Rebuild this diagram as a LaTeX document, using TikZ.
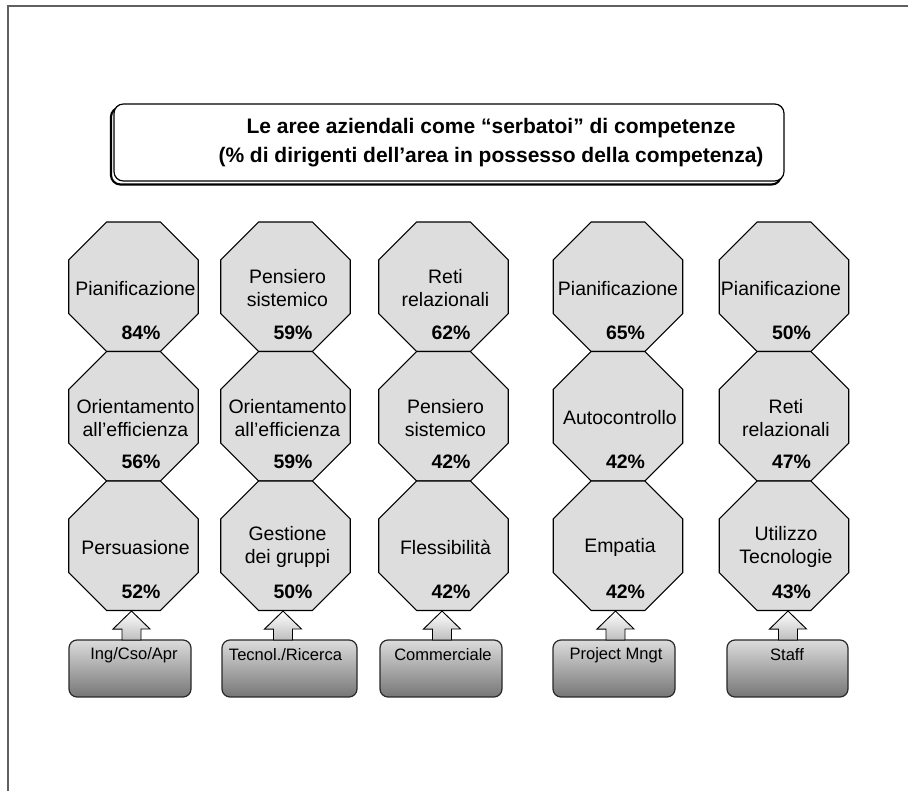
\documentclass[tikz,border=0pt]{standalone}
\usepackage{fontspec}
\setmainfont{Liberation Sans}
\usetikzlibrary{shapes.geometric,calc}

\definecolor{framegray}{RGB}{96,96,96}
\definecolor{octfill}{RGB}{221,221,221}
\definecolor{boxtop}{RGB}{220,220,220}
\definecolor{boxbot}{RGB}{118,118,118}
\definecolor{arrowbot}{RGB}{190,190,190}
\definecolor{edgegray}{RGB}{40,40,40}

\tikzset{
  octa/.style={regular polygon, regular polygon sides=8, minimum size=105.13pt,
    inner sep=0pt, draw=black, line width=0.8pt, fill=octfill},
  skill/.style={align=center, font=\fontsize{14.6}{17.25}\selectfont, inner sep=0pt},
  pct/.style={font=\fontsize{14.6}{17.25}\selectfont\bfseries, inner sep=0pt},
  areabox/.style={rectangle, rounded corners=6pt, draw=edgegray, line width=0.9pt,
    top color=boxtop, bottom color=boxbot, minimum height=42.75pt, inner sep=0pt},
  arealabel/.style={font=\fontsize{12.4}{14}\selectfont, inner sep=0pt},
  blockarrow/.style={draw=black, line width=0.7pt, top color=white, bottom color=arrowbot},
  titleshadow/.style={rectangle, rounded corners=7pt, draw=black, line width=1.6pt,
    minimum width=502.5pt, minimum height=57.75pt, inner sep=0pt},
  titlebox/.style={rectangle, rounded corners=7pt, draw=black, line width=0.9pt, fill=white,
    minimum width=502.5pt, minimum height=57.75pt, inner sep=0pt},
  titletext/.style={align=center, font=\fontsize{15.75}{21.75}\selectfont\bfseries, inner sep=0pt}
}

\begin{document}
\begin{tikzpicture}[x=0.75pt,y=-0.75pt]
\useasboundingbox (0,0) rectangle (908,791);

% page frame (top and left edges)
\draw[framegray, line width=1.5pt] (908,6) -- (8,6) -- (8,791);

% title panel with offset shadow
\node[titleshadow] (tshadow) at (446,146) {};
\node[titlebox] (tbox) at (449,142.5) {};
\node[titletext] (ttext) at (491,142.5)
  {Le aree aziendali come “serbatoi” di competenze\\(\% di dirigenti dell’area in possesso della competenza)};

% octagon columns
\foreach \c/\x in {1/133.5, 2/285.5, 3/443.5, 4/618, 5/784}{
  \foreach \r/\y in {1/286.75, 2/416.25, 3/545.75}{
    \node[octa] (o\c\r) at (\x,\y) {};
  }
}

% column 1
\node[skill] (s11) at ($(o11)+(2,1.5)$) {Pianificazione};
\node[pct]   (p11) at ($(o11)+(7.5,46)$) {84\%};
\node[skill] (s12) at ($(o12)+(2,1.5)$) {Orientamento\\all’efficienza};
\node[pct]   (p12) at ($(o12)+(7.5,46)$) {56\%};
\node[skill] (s13) at ($(o13)+(2,1.5)$) {Persuasione};
\node[pct]   (p13) at ($(o13)+(7.5,46)$) {52\%};

% column 2
\node[skill] (s21) at ($(o21)+(2,1.5)$) {Pensiero\\sistemico};
\node[pct]   (p21) at ($(o21)+(7.5,46)$) {59\%};
\node[skill] (s22) at ($(o22)+(2,1.5)$) {Orientamento\\all’efficienza};
\node[pct]   (p22) at ($(o22)+(7.5,46)$) {59\%};
\node[skill] (s23) at ($(o23)+(2,1.5)$) {Gestione\\dei gruppi};
\node[pct]   (p23) at ($(o23)+(7.5,46)$) {50\%};

% column 3
\node[skill] (s31) at ($(o31)+(2,1.5)$) {Reti\\relazionali};
\node[pct]   (p31) at ($(o31)+(7.5,46)$) {62\%};
\node[skill] (s32) at ($(o32)+(2,1.5)$) {Pensiero\\sistemico};
\node[pct]   (p32) at ($(o32)+(7.5,46)$) {42\%};
\node[skill] (s33) at ($(o33)+(2,1.5)$) {Flessibilità};
\node[pct]   (p33) at ($(o33)+(7.5,46)$) {42\%};

% column 4
\node[skill] (s41) at ($(o41)+(0,1.5)$) {Pianificazione};
\node[pct]   (p41) at ($(o41)+(7.5,46)$) {65\%};
\node[skill] (s42) at ($(o42)+(2,1.5)$) {Autocontrollo};
\node[pct]   (p42) at ($(o42)+(7.5,46)$) {42\%};
\node[skill] (s43) at ($(o43)+(2,1.5)$) {Empatia};
\node[pct]   (p43) at ($(o43)+(7.5,46)$) {42\%};

% column 5
\node[skill] (s51) at ($(o51)+(-3,1.5)$) {Pianificazione};
\node[pct]   (p51) at ($(o51)+(7.5,46)$) {50\%};
\node[skill] (s52) at ($(o52)+(2,1.5)$) {Reti\\relazionali};
\node[pct]   (p52) at ($(o52)+(7.5,46)$) {47\%};
\node[skill] (s53) at ($(o53)+(2,1.5)$) {Utilizzo\\Tecnologie};
\node[pct]   (p53) at ($(o53)+(7.5,46)$) {43\%};

% business areas
\node[areabox, minimum width=91.5pt]  (b1) at (130,668.5) {};
\node[areabox, minimum width=101.25pt] (b2) at (289.5,668.5) {};
\node[areabox, minimum width=91.5pt]  (b3) at (441,668.5) {};
\node[areabox, minimum width=91.5pt]  (b4) at (614,668.5) {};
\node[areabox, minimum width=90.75pt] (b5) at (787.5,668.5) {};

\node[arealabel] (l1) at (134,655) {Ing/Cso/Apr};
\node[arealabel] (l2) at (285.5,655) {Tecnol./Ricerca};
\node[arealabel] (l3) at (443,655) {Commerciale};
\node[arealabel] (l4) at (616,655) {Project Mngt};
\node[arealabel] (l5) at (787,655) {Staff};

% block arrows from each area up to its column
\foreach \i/\x in {1/131.5, 2/283, 3/442, 4/615.5, 5/788}{
  \coordinate (a\i) at (\x,640);
  \draw[blockarrow] ($(a\i)+(-9.5,0)$) -- ++(19,0) -- ++(0,-11) -- ++(9,0)
    -- (o\i3.south -| a\i) -- ++(-18.5,18) -- ++(9,0) -- cycle;
}
\end{tikzpicture}
\end{document}
